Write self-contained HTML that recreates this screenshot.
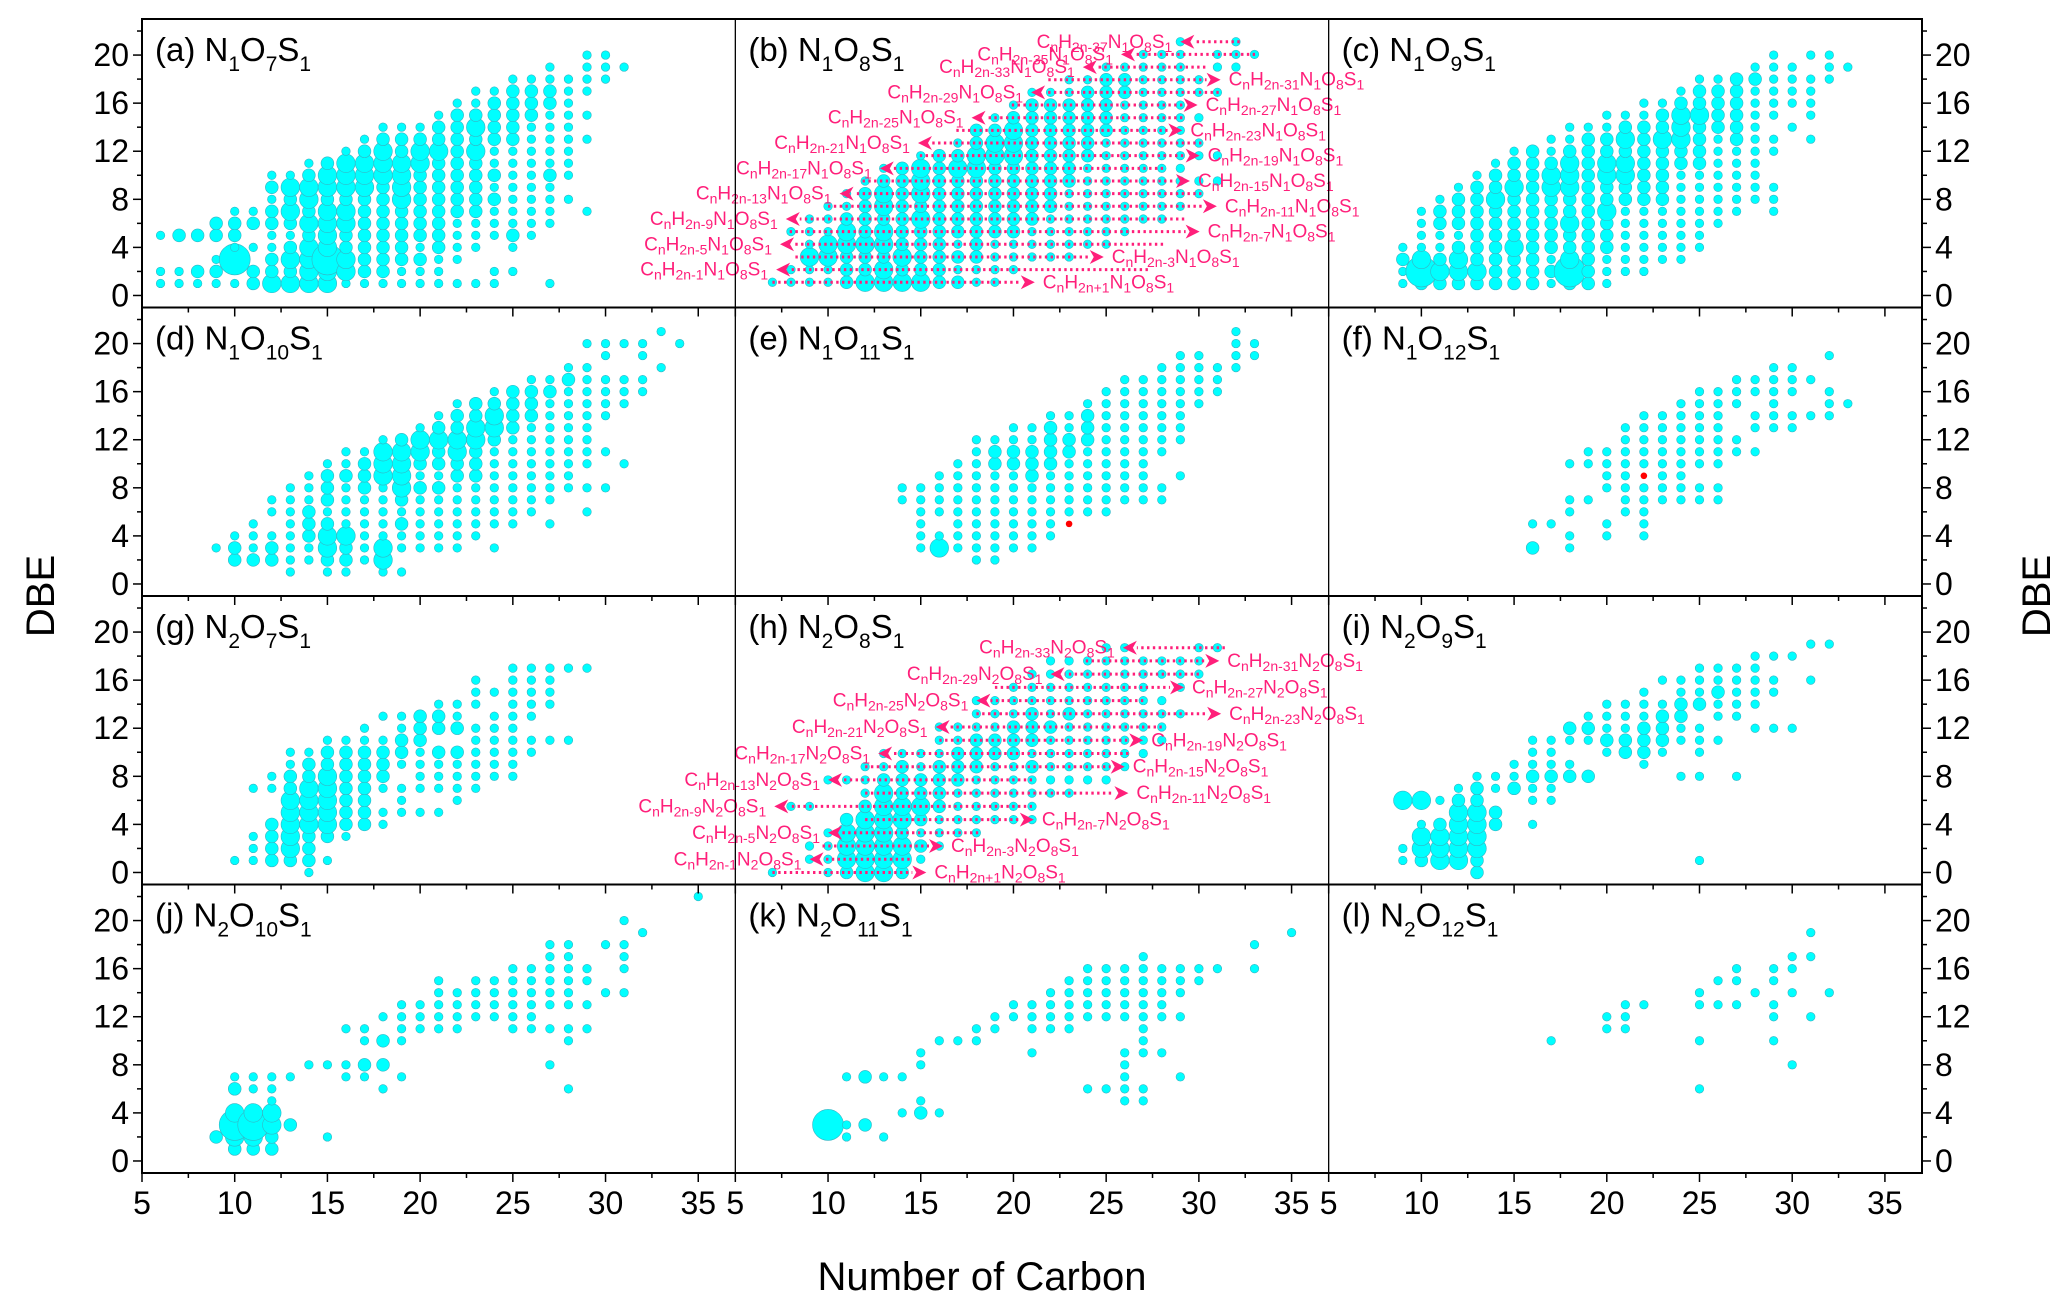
<!DOCTYPE html>
<html><head><meta charset="utf-8">
<style>
html,body{margin:0;padding:0;background:#fff;}
svg{display:block;font-family:"Liberation Sans",Arial,sans-serif;}
</style></head>
<body>
<svg id="chart" width="2067" height="1308" viewBox="0 0 2067 1308" xmlns="http://www.w3.org/2000/svg">
<rect x="0" y="0" width="2067" height="1308" fill="#fff"/>
<g id="marks"></g>
<g id="axes"></g>
</svg>
<script>
// ---- data (carbon : DBE list; * marks larger bubble intensity) ----
const panelA = ["6:1 2 5","7:1 2 5*","8:1 2* 5*","9:1 2* 3 5* 6*","10:1 3*** 4 5* 6* 7","11:1* 2* 4 6* 7","12:1** 2* 3* 4 5 6* 7* 8 9* 10","13:1** 2* 3** 4* 5 6* 7** 8* 9** 10","14:1** 2** 3** 4** 5* 6** 7* 8** 9** 10* 11","15:1** 2** 3*** 4** 5** 6** 7** 8* 9** 10** 11*","16:1 2** 3** 4* 5* 6** 7** 8* 9** 10** 11** 12","17:1 2* 3* 4* 5* 6* 7* 8* 9** 10** 11** 12* 13","18:1 2* 3* 4* 5* 6* 7* 8* 9* 10** 11** 12** 13* 14","19:1 2 3* 4* 5* 6* 7* 8** 9** 10** 11** 12* 13* 14","20:1 2 3* 4 5* 6* 7* 8* 9* 10* 11** 12** 13* 14","21:1 2 3 4* 5* 6* 7* 8* 9* 10* 11* 12** 13* 14* 15","22:1 3 4 5 6 7* 8* 9* 10* 11* 12* 13* 14* 15* 16","23:1 4 5 6 7* 8* 9* 10* 11* 12** 13* 14** 15* 16 17","24:1 2 5 6 7 8* 9 10* 11 12 13* 14* 15* 16* 17","25:2 4 5* 6 7 8 9 10 11 12 13* 14* 15* 16* 17* 18","26:5 6 7 8 9 10 11 12 13 14 15* 16* 17* 18","27:1 6 7 8 9 10* 11 12 13 14 15 16* 17* 18 19","28:8 10 11 12 13 14 15 16 17 18","29:7 13 15 17 18 19 20","30:18 19 20","31:19"];
const panelB = ["7:1","8:1 2 5","9:1 2 3** 4 5 6","10:1 2 3** 4** 5 6 7","11:1* 2* 3* 4** 5** 6* 7 8","12:1** 2* 3* 4** 5* 6* 7* 8* 9","13:1** 2** 3* 4** 5** 6* 7** 8** 9* 10","14:1** 2* 3** 4* 5* 6* 7* 8* 9* 10*","15:1** 2* 3* 4* 5* 6** 7* 8** 9** 10** 11","16:1* 2* 3* 4* 5* 6* 7* 8* 9* 10* 11*","17:1* 2 3* 4 5* 6* 7* 8* 9* 10** 11* 12","18:1 2 3* 4* 5* 6* 7* 8* 9* 10** 11** 12* 13*","19:1 2 3 4 5* 6* 7* 8* 9* 10* 11** 12** 13* 14","20:2 3 4 5* 6* 7* 8* 9* 10* 11** 12** 13** 14* 15","21:3 4 5 6* 7* 8* 9* 10* 11* 12* 13* 14* 15* 16","22:3 4 5 6 7* 8* 9* 10* 11* 12* 13* 14* 15* 16","23:3 4 5 6 7 8 9* 10* 11* 12* 13* 14* 15* 16 17","24:4 5 6 7 8 9 10 11* 12* 13* 14* 15* 16* 17","25:4 5 6 7 8 9 10 11 12 13* 14* 15* 16* 17* 18","26:5 6 7 8 9 10 11 12 13 14 15 16* 17* 18","27:6 7 8 9 10 11 12 13 14 15 16 17 18 19","28:6 7 8 9 10 11 12 13 14 15 16 17 18 19","29:7 8 9 10 11 12 13 14 15 16 17 18 19 20","30:8 9 11 12 14 16 17","31:9 11 16 18 19","32:18 19 20","33:19"];
const panelC = ["9:1 2 3* 4","10:1* 2*** 3** 4 5 6 7","11:1* 2** 3* 4 5 6* 7* 8","12:1* 2** 3** 4* 5 6* 7* 8* 9","13:1* 2** 3* 4* 5* 6* 7* 8* 9* 10","14:1* 2* 3* 4* 5* 6* 7* 8** 9* 10* 11","15:1* 2* 3* 4** 5* 6* 7* 8* 9** 10* 11* 12","16:1* 2* 3* 4* 5* 6* 7* 8* 9* 10* 11* 12*","17:1 2* 3 4* 5* 6* 7* 8* 9** 10** 11* 12 13","18:1* 2*** 3** 4* 5* 6** 7* 8* 9** 10** 11** 12* 13 14","19:1* 2* 3* 4* 5* 6* 7* 8* 9* 10* 11* 12* 13* 14","20:1 2 3 4* 5* 6* 7** 8* 9* 10** 11** 12* 13* 14 15","21:2 3 4 5 6 7 8* 9* 10** 11** 12* 13** 14* 15","22:2 3 4 5 6 7 8* 9* 10* 11* 12* 13* 14* 15 16","23:3 4 5 6 7 8* 9* 10* 11* 12* 13** 14* 15* 16","24:3 4 5 6 7 8 9 10 11* 12* 13** 14** 15** 16* 17","25:4 5 6 7 8 9 10 11* 12* 13* 14* 15** 16* 17* 18","26:6 7 8 9 10 11 12 13 14* 15* 16* 17* 18","27:7 8 9 10 11 12 13* 14* 15* 16* 17* 18*","28:8 9 10 11 12 13 14 15 16 17 18* 19","29:7 8 9 12 13 15 16 17 18 19 20","30:14 16 17 18 19","31:13 15 16 17 18 20","32:18 19 20","33:19"];
const panelD = ["9:3","10:2* 3* 4","11:2* 3 4 5","12:2* 3* 4 6 7","13:1 2 3 4 5 6 7 8","14:2 3 4* 5* 6* 7 8 9","15:1 2* 3** 4** 5* 6 7* 8* 9* 10","16:1 2* 3* 4** 5 6 7 8 9* 10 11","17:2 3 4 5 6 7 8* 9* 10* 11","18:1 2** 3** 4 5 6 7 8 9** 10** 11** 12","19:1 3 4 5* 6 7* 8** 9** 10** 11** 12*","20:3 4 5 6 7 8* 9 10* 11** 12** 13","21:3 4 5 6 7 8* 9 10* 11* 12** 13* 14","22:3 4 5 6 7 8 9* 10* 11** 12** 13* 14* 15","23:4 5 6 7 8 9* 10* 11* 12** 13** 14* 15*","24:3 5 6 7 8 9 10 11 12* 13** 14** 15* 16","25:5 6 7 8 9 10 11 12 13* 14* 15* 16*","26:6 7 8 9 10 11 12 13 14* 15* 16* 17","27:5 7 8 9 10 11 12 13 14 15 16* 17","28:8 9 10 11 12 13 14 15 16 17* 18","29:6 8 10 11 12 13 14 15 16 17 18 20","30:8 11 14 15 16 17 19 20","31:10 15 16 17 20","32:16 17 19 20","33:18 21","34:20"];
const panelE = ["14:7 8","15:3 4 5 6 7 8","16:3** 4 6 7 8 9","17:3 4 5 6 7 8 9 10","18:2 3 4 5 6 7 8 9 10 11 12","19:2 3 4 5 6 7 8 9 10* 11* 12","20:3 4 5 6 7 8 9 10* 11* 12 13","21:3 4 5 6 7 8 9* 10* 11* 12 13","22:4 5 6 7 8 9 10* 11* 12* 13* 14","23:6 7 8 9 10 11* 12* 13 14","24:6 7 8 9 10 11 12* 13* 14* 15","25:6 7 8 9 10 11 12 13 14 15 16","26:7 8 9 10 11 12 13 14 15 16 17","27:7 8 9 10 11 12 13 14 15 16 17","28:7 8 11 12 13 14 15 16 17 18","29:9 12 13 14 15 16 17 18 19","30:15 16 17 18 19","31:16 17 18","32:18 19 20 21","33:19 20"];
const panelF = ["16:3* 5","17:5","18:3 4 6 7 10","19:7 10 11","20:4 5 8 9 10 11","21:6 7 8 9 10 11 12 13","22:4 5 6 7 8 10 11 12 13 14","23:7 8 9 10 11 12 13 14","24:7 8 9 10 11 12 13 14 15","25:7 8 10 11 12 13 14 15 16","26:7 8 10 11 12 13 14 15 16","27:11 12 15 16 17","28:11 13 14 16 17","29:13 14 15 16 17 18","30:13 14 16 17 18","31:14 17","32:14 15 16 19","33:15"];
const panelG = ["10:1","11:1 2 3 7","12:1* 2* 3* 4* 7 8","13:1* 2** 3** 4** 5** 6** 7* 8* 9 10","14:0 1* 2* 3* 4** 5** 6** 7** 8* 9* 10","15:1 3* 4** 5** 6** 7** 8** 9* 10* 11","16:3 4* 5* 6* 7* 8* 9* 10* 11","17:4* 5* 6* 7* 8* 9* 10* 11 12","18:4 5 7 8* 9* 10* 11 13","19:5 6 7 9 10* 11* 12 13","20:5 7 8 9 10 11* 12* 13*","21:5 7 8 9 10* 12* 13* 14","22:6 7 8 9 10* 12* 13 14","23:7 8 9 10 11 12 14 15 16","24:8 9 10 11 12 13 15","25:8 9 10 11 12 13 14 15 16 17","26:10 11 13 14 15 16 17","27:11 14 15 16 17","28:11 17","29:17"];
const panelH = ["7:0","8:5","9:1 2 5","10:0 1 2 3 7","11:0* 1** 2** 3** 4* 7","12:0** 1** 2** 3** 4** 5* 6 7 8","13:0** 1** 2** 3** 4** 5** 6** 7* 8 9","14:0* 1** 2** 3* 4** 5** 6* 7* 8* 9","15:1 2* 3 4* 5** 6* 7* 8 9","16:2 3 4 5* 6* 7* 8* 9 10 11","17:3 4 5 6 7* 8* 9* 10 11","18:3 4 5 6 7 8* 9* 10* 11 12 13","19:4 5 6 7 8 9* 10* 11 12 13","20:4 5 6 7 8 9* 10* 11* 12 13 14","21:4 5 6 7 8* 9 10* 11* 12* 13 14 15","22:6 7 8 9 10 11* 12 13 14 15 16","23:6 7 8 9 10 11 12* 13 14 15 16","24:7 8 9 10 11 12 13 14 15 16","25:7 8 9 10 11 12 13 14 15 16 17","26:8 9 10 11 12 13 14 15 16 17","27:9 10 11 12 13 14 15 16","28:10 11 12 13 15 16","29:12 14 15 16","30:15 16 17","31:17"];
const panelI = ["9:1 2 6**","10:1* 2** 3** 4 6**","11:1** 2** 3** 4* 6","12:1** 2** 3** 4** 5** 6* 7","13:0* 1* 2** 3** 4** 5** 6* 7* 8","14:4* 5* 7 8","15:7* 8 9","16:4 6 7 8* 9 10 11","17:6 7 8* 9 10 11","18:8* 9 11 12*","19:8* 11 12* 13","20:10 11* 12 13 14","21:10* 11* 12 13 14","22:9 10* 11* 12* 13 14 15","23:10 11* 12* 13* 14 16","24:8 11 12 13* 14* 15 16","25:1 8 10 11 12 14* 15 16 17","26:11 13 14 15* 16 17","27:8 13 14 15 16 17","28:12 14 15 16 17 18","29:12 15 16 18","30:12 18","31:16 19","32:19"];
const panelJ = ["9:2*","10:1* 2** 3*** 4** 6* 7","11:1* 2** 3*** 4** 6 7","12:1* 2* 3** 4** 5 6 7","13:3* 7","14:8","15:2 8","16:7 8 11","17:7 8* 10 11","18:6 8* 10* 12","19:7 10 11 12 13","20:11 12 13","21:11 12 13 14 15","22:11 12 13 14","23:12 13 14 15","24:12 13 14 15","25:11 12 13 14 15 16","26:11 12 13 14 15 16","27:8 11 13 14 15 16 17 18","28:6 10 11 13 14 15 16 17 18","29:11 13 15 16","30:14 18","31:14 16 17 18 20","32:19","35:22"];
const panelK = ["10:3***","11:2 3 7","12:3* 7*","13:2 7","14:4 7","15:4* 5 8 9","16:4 10","17:10","18:10 11","19:11 12","20:12 13","21:9 11 12 13","22:11 12 13 14","23:11 12 13 14 15","24:6 12 13 14 15 16","25:6 12 13 14 15 16","26:5 6 7 8 9 12 13 14 15 16","27:5 6 9 10 11 12 13 14 15 16 17","28:9 12 13 14 15 16","29:7 12 14 15 16","30:15 16","31:16","33:16 18","35:19"];
const panelL = ["17:10","20:11 12","21:11 12 13","22:13","25:6 10 13 14","26:13 15","27:13 15 16","28:14","29:10 12 13 15 16","30:8 14 16 17","31:12 17 19","32:14"];
const redPointsE = [[23,5]];
const redPointsF = [[22,9]];
// annotation rows for panel (b): row index, direction, far-end carbon, arrow-tip carbon, formula offset
const bRows = [1,2,3,4,5,6,7,8,9,10,11,12,13,14,15,16,17,18,19,20];
const bDirs = ["R","L","R","L","R","L","R","L","R","L","R","L","R","L","R","L","R","L","L","L"];
const bFar  = [7.0,27.25,8.24,28.07,7.93,29.21,10.0,30.14,11.86,28.07,14.95,30.14,16.92,29.11,19.91,31.07,21.88,30.35,33.03,32.2];
const bTip  = [21.15,7.2,24.87,7.41,30.04,7.72,30.97,10.62,29.52,12.79,30.04,14.85,29.11,17.74,29.93,20.95,31.17,23.74,25.8,29.0];
const bZ    = ["+1","-1","-3","-5","-7","-9","-11","-13","-15","-17","-19","-21","-23","-25","-27","-29","-31","-33","-35","-37"];
// annotation rows for panel (h)
const hRows = [0,1,2,3,4,5,6,7,8,9,10,11,12,13,14,15,16,17];
const hDirs = ["R","L","R","L","R","L","R","L","R","L","R","L","R","L","R","L","R","L"];
const hFar  = [7.0,14.4,9.7,18.1,12.0,21.0,12.0,21.0,12.0,26.2,16.0,28.0,18.0,27.0,19.0,30.0,23.9,31.4];
const hTip  = [15.3,9.0,16.2,10.0,21.1,7.1,26.2,10.0,26.0,12.7,27.0,15.8,31.2,18.0,29.2,22.0,31.1,25.9];
const hZ    = ["+1","-1","-3","-5","-7","-9","-11","-13","-15","-17","-19","-21","-23","-25","-27","-29","-31","-33"];
const xTicks = [5,10,15,20,25,30,35];
const yTicks = [0,4,8,12,16,20];

// ---- geometry ----
const NS="http://www.w3.org/2000/svg";
const L=142,R=1922,T=19,B=1173;
const PW=(R-L)/3, PH=(B-T)/4;
const XMIN=5,XMAX=37,YMIN=-1,YMAX=23;
const PINK="#ff1f7a", CYAN="#00ffff";
const RADII={"":4.3,"*":6.4,"**":9.3,"***":15.5};
function xs(col,c){return L+col*PW+(c-XMIN)/(XMAX-XMIN)*PW;}
function ys(row,d){return T+row*PH+(YMAX-d)/(YMAX-YMIN)*PH;}
function mk(tag,attrs,parent){const e=document.createElementNS(NS,tag);for(const k in attrs)e.setAttribute(k,attrs[k]);parent.appendChild(e);return e;}
const marks=document.getElementById('marks');
const axes=document.getElementById('axes');

const panels=[
 {id:'a',data:panelA,col:0,row:0,n:'1',o:'7'},
 {id:'b',data:panelB,col:1,row:0,n:'1',o:'8',map:k=>1.1+(k-1)*1.053},
 {id:'c',data:panelC,col:2,row:0,n:'1',o:'9'},
 {id:'d',data:panelD,col:0,row:1,n:'1',o:'10'},
 {id:'e',data:panelE,col:1,row:1,n:'1',o:'11',red:redPointsE},
 {id:'f',data:panelF,col:2,row:1,n:'1',o:'12',red:redPointsF},
 {id:'g',data:panelG,col:0,row:2,n:'2',o:'7'},
 {id:'h',data:panelH,col:1,row:2,n:'2',o:'8',map:k=>k*1.1},
 {id:'i',data:panelI,col:2,row:2,n:'2',o:'9'},
 {id:'j',data:panelJ,col:0,row:3,n:'2',o:'10'},
 {id:'k',data:panelK,col:1,row:3,n:'2',o:'11'},
 {id:'l',data:panelL,col:2,row:3,n:'2',o:'12'}
];

function addLabel(g,x,y,anchor,z,n){
  const t=mk('text',{x:x,y:y,'text-anchor':anchor,fill:PINK,'font-size':19},g);
  
  
  const parts=[['C',0],['n',1],['H',0],['2n'+z,1],['N',0],[n,1],['O',0],['8',1],['S',0],['1',1]];
  let sub=false;
  parts.forEach(p=>{const s=mk('tspan',{},t);s.textContent=p[0];
    if(p[1]&&!sub){s.setAttribute('dy','4');s.setAttribute('font-size','14');sub=true;}
    else if(p[1]){s.setAttribute('font-size','14');}
    else if(sub){s.setAttribute('dy','-4');sub=false;}
  });
}

function drawArrows(g,p,rows,dirs,far,tip,zs){
  rows.forEach((k,i)=>{
    const y=ys(p.row,p.map(k));
    const xf=xs(p.col,far[i]), xt=xs(p.col,tip[i]);
    const dir=dirs[i]==='R'?1:-1;
    const base=xt-dir*14;
    const ln=mk('line',{x1:xf,y1:y,x2:base,y2:y,stroke:PINK,'stroke-width':3,'stroke-dasharray':'2.4 3.4'},g);
    
    
    const ah=mk('polygon',{points:`${xt},${y} ${base},${y-7} ${base+dir*4},${y} ${base},${y+7}`,fill:PINK},g);
    
    
    addLabel(g,xt+dir*8,y+6,dir>0?'start':'end',zs[i],p.n);
  });
}

panels.forEach(p=>{
  const g=mk('g',{},marks);
  
  
  const map=p.map||(d=>d);
  p.data.forEach(entry=>{
    const [cs,ds]=entry.split(':');
    const c=+cs;
    ds.trim().split(/\s+/).forEach(tok=>{
      const m=tok.match(/^(\d+)(\**)$/);
      const d=+m[1], r=RADII[m[2]];
      const el=mk('ellipse',{cx:xs(p.col,c),cy:ys(p.row,map(d)),rx:r,ry:r,fill:CYAN,stroke:'#35b5c4','stroke-width':0.6},g);
      
      
    });
  });
  (p.red||[]).forEach(pt=>{
    const el=mk('circle',{cx:xs(p.col,pt[0]),cy:ys(p.row,pt[1]),r:3.3,fill:'#ff0000'},g);
    
    
  });
  if(p.id==='b') drawArrows(g,p,bRows,bDirs,bFar,bTip,bZ);
  if(p.id==='h') drawArrows(g,p,hRows,hDirs,hFar,hTip,hZ);
  // title
  const x0=L+p.col*PW, y0=T+p.row*PH;
  const t=mk('text',{x:x0+13,y:y0+42,'font-size':33,fill:'#000'},g);
  
  
  const parts=[['('+p.id+') N',0],[p.n,1],['O',0],[p.o,1],['S',0],['1',1]];
  parts.forEach((q,i)=>{const s=mk('tspan',{},t);s.textContent=q[0];
    if(q[1]){s.setAttribute('font-size','21');s.setAttribute('dy','10');}
    else if(i>0){s.setAttribute('dy','-10');}});
});

// ---- axes ----
for(let row=0;row<4;row++){
  const yb=T+(row+1)*PH;
  for(let col=0;col<3;col++){
    for(let v=5;v<=35;v+=2.5){
      const major=(v%5===0);
      const x=xs(col,v);
      const tk=mk('line',{x1:x,y1:yb,x2:x,y2:yb+(major?9:5),stroke:'#000','stroke-width':1.5},axes);
      
      
    }
    if(row===3){
      xTicks.forEach(v=>{
        const tl=mk('text',{x:xs(col,v),y:1214,'text-anchor':'middle','font-size':32},axes);
        
        
        tl.textContent=v;
      });
    }
  }
  for(let v=0;v<=22;v+=2){
    const major=(v%4===0);
    const y=ys(row,v);
    const t1=mk('line',{x1:L,y1:y,x2:L-(major?9:5),y2:y,stroke:'#000','stroke-width':1.5},axes);
    
    
    const t2=mk('line',{x1:R,y1:y,x2:R+(major?9:5),y2:y,stroke:'#000','stroke-width':1.5},axes);
    
    
  }
  yTicks.forEach(v=>{
    const y=ys(row,v)+11;
    const a=mk('text',{x:L-13,y:y,'text-anchor':'end','font-size':32},axes);
    
    
    a.textContent=v;
    const b=mk('text',{x:R+13,y:y,'text-anchor':'start','font-size':32},axes);
    
    
    b.textContent=v;
  });
  if(row<3){
    const hl=mk('line',{x1:L,y1:yb,x2:R,y2:yb,stroke:'#000','stroke-width':2},axes);
    
    
  }
}
[1,2].forEach(col=>{
  const vl=mk('line',{x1:L+col*PW,y1:T,x2:L+col*PW,y2:B,stroke:'#000','stroke-width':1.3},axes);
  
  
});
const frame=mk('rect',{x:L,y:T,width:R-L,height:B-T,fill:'none',stroke:'#000','stroke-width':2},axes);



const xl=mk('text',{x:982,y:1290,'text-anchor':'middle','font-size':40},axes);


xl.textContent='Number of Carbon';
const yl=mk('text',{x:0,y:0,'text-anchor':'middle','font-size':40,transform:'translate(54,596) rotate(-90)'},axes);


yl.textContent='DBE';
const yr=mk('text',{x:0,y:0,'text-anchor':'middle','font-size':40,transform:'translate(2050,596) rotate(-90)'},axes);


yr.textContent='DBE';
</script>
</body></html>
